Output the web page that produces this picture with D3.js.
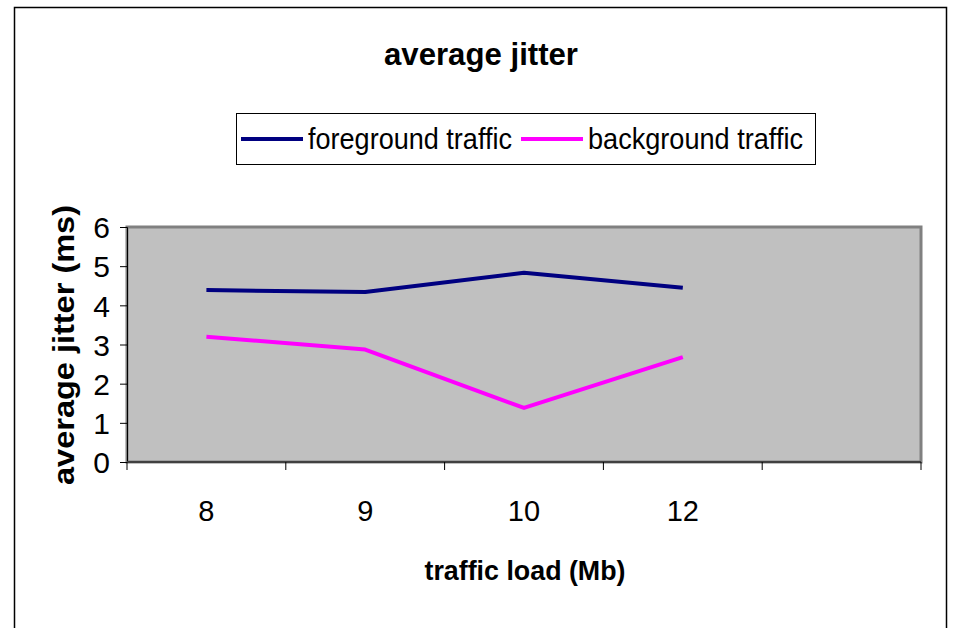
<!DOCTYPE html>
<html>
<head>
<meta charset="utf-8">
<script src="https://d3js.org/d3.v7.min.js"></script>
<style>
  body { margin: 0; background: #fff; }
  svg { display: block; font-family: "Liberation Sans", Arial, sans-serif; }
</style>
</head>
<body>
<svg id="chart"></svg>
<script>
    // data
    var categories = ["8", "9", "10", "12", ""];
    var seriesNames = ["foreground traffic", "background traffic"];
    var foreground = [4.39, 4.34, 4.83, 4.45];
    var background = [3.2, 2.87, 1.38, 2.68];
    var yTicks = [0, 1, 2, 3, 4, 5, 6];
    var seriesColors = ["#000080", "#ff00ff"];

    var width = 953, height = 628;
    var plot = { left: 127, right: 921, top: 227, bottom: 462 };

    var svg = d3.select('#chart')
        .attr('width', width)
        .attr('height', height);

    // outer chart frame
    svg.append('rect')
        .attr('x', 14.5).attr('y', 7.5)
        .attr('width', 932).attr('height', 640)
        .attr('fill', '#fff')
        .attr('stroke', '#000')
        .attr('stroke-width', 1.5);

    // scales
    var x = d3.scaleBand()
        .domain(categories)
        .range([plot.left, plot.right]);
    var y = d3.scaleLinear()
        .domain([0, 6])
        .range([plot.bottom, plot.top]);

    // plot area
    svg.append('rect')
        .attr('x', plot.left).attr('y', plot.top)
        .attr('width', plot.right - plot.left)
        .attr('height', plot.bottom - plot.top)
        .attr('fill', '#c0c0c0')
        .attr('stroke', '#808080')
        .attr('stroke-width', 3);

    // y axis
    var yAxis = svg.append('g')
        .attr('transform', 'translate(' + plot.left + ',0)')
        .call(d3.axisLeft(y).tickValues(yTicks).tickSize(7).tickPadding(10).tickFormat(d3.format('d')));
    yAxis.select('.domain').attr('stroke', '#000').attr('stroke-width', 1);
    yAxis.selectAll('.tick line').attr('stroke', '#000');
    yAxis.selectAll('text')
        .attr('font-size', 30)
        .attr('font-family', '"Liberation Sans", Arial, sans-serif')
        .attr('fill', '#000')
        .attr('dy', '0.36em');

    // x axis, ticks at category boundaries
    var xAxisG = svg.append('g')
        .attr('transform', 'translate(0,' + plot.bottom + ')');
    xAxisG.append('line')
        .attr('x1', plot.left).attr('x2', plot.right)
        .attr('stroke', '#404040').attr('stroke-width', 2);
    var bounds = categories.map(function (c) { return x(c); }).concat([plot.right]);
    xAxisG.selectAll('line.tk')
        .data(bounds)
        .enter().append('line')
        .attr('class', 'tk')
        .attr('x1', function (d) { return d; })
        .attr('x2', function (d) { return d; })
        .attr('y1', 0).attr('y2', 8)
        .attr('stroke', '#000');
    xAxisG.selectAll('text')
        .data(categories)
        .enter().append('text')
        .attr('x', function (d) { return x(d) + x.bandwidth() / 2; })
        .attr('y', 59)
        .attr('text-anchor', 'middle')
        .attr('font-size', 29)
        .attr('fill', '#000')
        .text(function (d) { return d; });

    // lines
    var line = d3.line()
        .x(function (d, i) { return x(categories[i]) + x.bandwidth() / 2; })
        .y(function (d) { return y(d); });
    [foreground, background].forEach(function (s, i) {
        svg.append('path')
            .datum(s)
            .attr('d', line)
            .attr('fill', 'none')
            .attr('stroke', seriesColors[i])
            .attr('stroke-width', 4)
            .attr('stroke-linejoin', 'round');
    });

    // title
    svg.append('text')
        .attr('x', 481).attr('y', 65)
        .attr('text-anchor', 'middle')
        .attr('font-size', 31)
        .attr('font-weight', 'bold')
        .attr('textLength', 194)
        .attr('lengthAdjust', 'spacingAndGlyphs')
        .text('average jitter');

    // axis titles
    svg.append('text')
        .attr('transform', 'translate(74,345) rotate(-90)')
        .attr('text-anchor', 'middle')
        .attr('font-size', 29)
        .attr('font-weight', 'bold')
        .attr('textLength', 280)
        .attr('lengthAdjust', 'spacingAndGlyphs')
        .text('average jitter (ms)');
    svg.append('text')
        .attr('x', 525).attr('y', 580)
        .attr('text-anchor', 'middle')
        .attr('font-size', 28)
        .attr('font-weight', 'bold')
        .attr('textLength', 201)
        .attr('lengthAdjust', 'spacingAndGlyphs')
        .text('traffic load (Mb)');

    // legend
    var legend = svg.append('g');
    legend.append('rect')
        .attr('x', 236.5).attr('y', 113.5)
        .attr('width', 579).attr('height', 51)
        .attr('fill', '#fff')
        .attr('stroke', '#000')
        .attr('stroke-width', 1);
    var legendPos = [241, 521];
    var legendTextLen = [204, 215];
    seriesNames.forEach(function (name, i) {
        legend.append('line')
            .attr('x1', legendPos[i]).attr('x2', legendPos[i] + 62)
            .attr('y1', 139).attr('y2', 139)
            .attr('stroke', seriesColors[i])
            .attr('stroke-width', 4);
        legend.append('text')
            .attr('x', legendPos[i] + 67).attr('y', 149)
            .attr('font-size', 29)
            .attr('textLength', legendTextLen[i])
            .attr('lengthAdjust', 'spacingAndGlyphs')
            .text(name);
    });
</script>
</body>
</html>
